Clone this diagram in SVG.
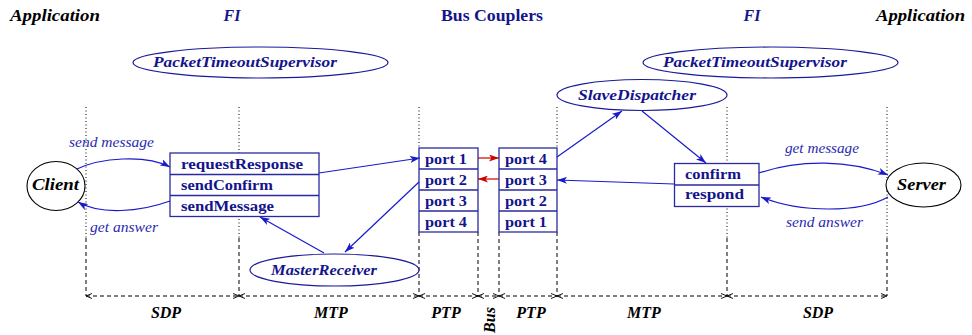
<svg xmlns="http://www.w3.org/2000/svg" width="972" height="335" viewBox="0 0 972 335">
<defs>
<marker id="ah" markerWidth="10" markerHeight="7" refX="10" refY="3.5" orient="auto" markerUnits="userSpaceOnUse">
<path d="M0,0 L10,3.5 L0,7 L2.5,3.5 z" fill="#1a1acc"/>
</marker>
<marker id="ahr" markerWidth="10" markerHeight="7" refX="10" refY="3.5" orient="auto" markerUnits="userSpaceOnUse">
<path d="M0,0 L10,3.5 L0,7 L2.5,3.5 z" fill="#cc0000"/>
</marker>
<marker id="dimE" markerWidth="8" markerHeight="8" refX="7" refY="4" orient="auto" markerUnits="userSpaceOnUse">
<path d="M1,1.5 L7,4 L1,6.5" fill="none" stroke="#000" stroke-width="0.9"/>
</marker>
<marker id="dimS" markerWidth="8" markerHeight="8" refX="1" refY="4" orient="auto" markerUnits="userSpaceOnUse">
<path d="M7,1.5 L1,4 L7,6.5" fill="none" stroke="#000" stroke-width="0.9"/>
</marker>
</defs>
<style>
.hdr{font-family:"Liberation Serif","DejaVu Serif",serif;font-weight:bold;font-style:italic;font-size:16px}
.blk{fill:#000}
.blu{fill:#14148c}
.ell{fill:#fff;stroke:#1a1a9a;stroke-width:1.2}
.elt{font-family:"Liberation Serif","DejaVu Serif",serif;font-weight:bold;font-style:italic;font-size:15px;fill:#14148c}
.box{fill:#fff;stroke:#2a2aa0;stroke-width:1.3}
.bt{font-family:"Liberation Serif","DejaVu Serif",serif;font-weight:bold;font-size:15px;fill:#14148c}
.lbl{font-family:"Liberation Serif","DejaVu Serif",serif;font-style:italic;font-size:14px;fill:#2a2ab0}
.con{fill:none;stroke:#1a1acc;stroke-width:1.2;marker-end:url(#ah)}
.red{fill:none;stroke:#cc0000;stroke-width:1.2;marker-end:url(#ahr)}
.dot{stroke:#000;stroke-width:1;stroke-dasharray:1 2.5;fill:none}
.dash{stroke:#000;stroke-width:1;stroke-dasharray:4 3;fill:none}
.dim{stroke:#000;stroke-width:1;stroke-dasharray:4 3;fill:none;marker-start:url(#dimS);marker-end:url(#dimE)}
.btm{font-family:"Liberation Serif","DejaVu Serif",serif;font-weight:bold;font-style:italic;font-size:16px;fill:#000}
</style>

<g id="headers">
<text class="hdr blk" x="10" y="21" textLength="90" lengthAdjust="spacingAndGlyphs">Application</text>
<text class="hdr blu" x="232" y="21" text-anchor="middle">FI</text>
<text x="441" y="21" font-family="Liberation Serif, DejaVu Serif, serif" font-weight="bold" font-size="16" fill="#14148c" textLength="102" lengthAdjust="spacingAndGlyphs">Bus Couplers</text>
<text class="hdr blu" x="752" y="21" text-anchor="middle">FI</text>
<text class="hdr blk" x="876" y="21" textLength="89" lengthAdjust="spacingAndGlyphs">Application</text>
</g>

<g id="guides">
<line class="dot" x1="86" y1="107" x2="86" y2="238"/>
<line class="dot" x1="239" y1="107" x2="239" y2="238"/>
<line class="dot" x1="419" y1="107" x2="419" y2="148"/>
<line class="dot" x1="557" y1="107" x2="557" y2="148"/>
<line class="dot" x1="727" y1="107" x2="727" y2="238"/>
<line class="dot" x1="887" y1="107" x2="887" y2="238"/>
<line class="dash" x1="86" y1="238" x2="86" y2="296"/>
<line class="dash" x1="239" y1="238" x2="239" y2="296"/>
<line class="dash" x1="419" y1="232" x2="419" y2="296"/>
<line class="dash" x1="478" y1="232" x2="478" y2="296"/>
<line class="dash" x1="499" y1="232" x2="499" y2="296"/>
<line class="dash" x1="557" y1="232" x2="557" y2="296"/>
<line class="dash" x1="727" y1="238" x2="727" y2="296"/>
<line class="dash" x1="887" y1="238" x2="887" y2="296"/>
</g>

<g id="dimensions">
<line class="dim" x1="86" y1="296" x2="239" y2="296"/>
<line class="dim" x1="239" y1="296" x2="419" y2="296"/>
<line class="dim" x1="419" y1="296" x2="478" y2="296"/>
<line class="dim" x1="478" y1="296" x2="499" y2="296"/>
<line class="dim" x1="499" y1="296" x2="557" y2="296"/>
<line class="dim" x1="557" y1="296" x2="727" y2="296"/>
<line class="dim" x1="727" y1="296" x2="887" y2="296"/>
<text class="btm" x="166" y="318" text-anchor="middle">SDP</text>
<text class="btm" x="331" y="318" text-anchor="middle">MTP</text>
<text class="btm" x="446" y="318" text-anchor="middle">PTP</text>
<text class="btm" x="0" y="0" text-anchor="middle" transform="translate(495,320) rotate(-90)">Bus</text>
<text class="btm" x="531" y="318" text-anchor="middle">PTP</text>
<text class="btm" x="644" y="318" text-anchor="middle">MTP</text>
<text class="btm" x="818" y="318" text-anchor="middle">SDP</text>
</g>

<g id="pts-left">
<ellipse class="ell" cx="260.5" cy="62.5" rx="127.5" ry="15.5"/>
<text class="elt" x="153" y="67" textLength="184" lengthAdjust="spacingAndGlyphs">PacketTimeoutSupervisor</text>
</g>
<g id="pts-right">
<ellipse class="ell" cx="770.5" cy="62.5" rx="127.5" ry="15.5"/>
<text class="elt" x="663" y="67" textLength="184" lengthAdjust="spacingAndGlyphs">PacketTimeoutSupervisor</text>
</g>
<g id="slave-dispatcher">
<ellipse class="ell" cx="642" cy="95" rx="85" ry="15.5"/>
<text class="elt" x="578" y="100" textLength="118" lengthAdjust="spacingAndGlyphs">SlaveDispatcher</text>
</g>
<g id="master-receiver">
<ellipse class="ell" cx="334.5" cy="270" rx="84.5" ry="16"/>
<text class="elt" x="271" y="275" textLength="106" lengthAdjust="spacingAndGlyphs">MasterReceiver</text>
</g>

<g id="client">
<ellipse cx="56" cy="186" rx="29" ry="24.5" fill="#fff" stroke="#000" stroke-width="1.1"/>
<text class="hdr blk" x="32" y="190" textLength="47" lengthAdjust="spacingAndGlyphs">Client</text>
</g>
<g id="server">
<ellipse cx="923.5" cy="185" rx="37.5" ry="22" fill="#fff" stroke="#000" stroke-width="1.1"/>
<text class="hdr blk" x="897" y="190" textLength="49" lengthAdjust="spacingAndGlyphs">Server</text>
</g>

<g id="fi-left">
<rect class="box" x="170" y="153" width="149" height="63.5"/>
<line class="box" x1="170" y1="174.5" x2="319" y2="174.5"/>
<line class="box" x1="170" y1="195.5" x2="319" y2="195.5"/>
<text class="bt" x="181" y="169" textLength="122" lengthAdjust="spacingAndGlyphs">requestResponse</text>
<text class="bt" x="181" y="190" textLength="92" lengthAdjust="spacingAndGlyphs">sendConfirm</text>
<text class="bt" x="181" y="211" textLength="93" lengthAdjust="spacingAndGlyphs">sendMessage</text>
</g>

<g id="coupler-left">
<rect class="box" x="419" y="148" width="59" height="84"/>
<line class="box" x1="419" y1="169" x2="478" y2="169"/>
<line class="box" x1="419" y1="190" x2="478" y2="190"/>
<line class="box" x1="419" y1="211" x2="478" y2="211"/>
<text class="bt" x="425" y="164" textLength="42" lengthAdjust="spacingAndGlyphs">port 1</text>
<text class="bt" x="425" y="185" textLength="42" lengthAdjust="spacingAndGlyphs">port 2</text>
<text class="bt" x="425" y="206" textLength="42" lengthAdjust="spacingAndGlyphs">port 3</text>
<text class="bt" x="425" y="227" textLength="42" lengthAdjust="spacingAndGlyphs">port 4</text>
</g>

<g id="coupler-right">
<rect class="box" x="499" y="148" width="58" height="84"/>
<line class="box" x1="499" y1="169" x2="557" y2="169"/>
<line class="box" x1="499" y1="190" x2="557" y2="190"/>
<line class="box" x1="499" y1="211" x2="557" y2="211"/>
<text class="bt" x="505" y="164" textLength="42" lengthAdjust="spacingAndGlyphs">port 4</text>
<text class="bt" x="505" y="185" textLength="42" lengthAdjust="spacingAndGlyphs">port 3</text>
<text class="bt" x="505" y="206" textLength="42" lengthAdjust="spacingAndGlyphs">port 2</text>
<text class="bt" x="505" y="227" textLength="42" lengthAdjust="spacingAndGlyphs">port 1</text>
</g>

<g id="fi-right">
<rect class="box" x="674.5" y="163.5" width="84.5" height="43"/>
<line class="box" x1="674.5" y1="185" x2="759" y2="185"/>
<text class="bt" x="685" y="179" textLength="56" lengthAdjust="spacingAndGlyphs">confirm</text>
<text class="bt" x="685" y="199" textLength="59" lengthAdjust="spacingAndGlyphs">respond</text>
</g>

<g id="connectors">
<path class="con" d="M77,169 C100,158 145,154 170,167"/>
<path class="con" d="M170,201 C140,212 100,215 78,202"/>
<path class="con" d="M319,173 L420,158"/>
<path class="con" d="M419,182 L345,252"/>
<path class="con" d="M324,253 L260,217"/>
<path class="red" d="M478,158 L499,158"/>
<path class="red" d="M499,179 L478,179"/>
<path class="con" d="M557,157 L622,111"/>
<path class="con" d="M642,111 L706,163"/>
<path class="con" d="M674,184 L557,180"/>
<path class="con" d="M759,173 C800,159 850,160 888,175"/>
<path class="con" d="M888,197 C860,213 800,213 761,197"/>
</g>

<g id="connector-labels">
<text class="lbl" x="69" y="147" textLength="85" lengthAdjust="spacingAndGlyphs">send message</text>
<text class="lbl" x="90" y="232" textLength="68" lengthAdjust="spacingAndGlyphs">get answer</text>
<text class="lbl" x="785" y="153" textLength="74" lengthAdjust="spacingAndGlyphs">get message</text>
<text class="lbl" x="786" y="227" textLength="77" lengthAdjust="spacingAndGlyphs">send answer</text>
</g>
</svg>
